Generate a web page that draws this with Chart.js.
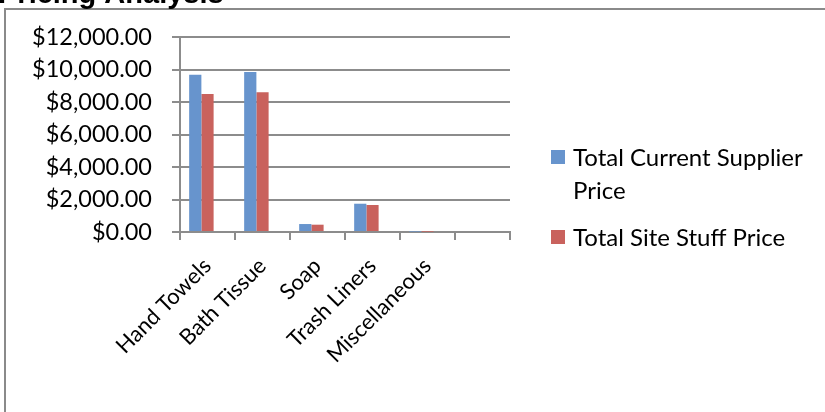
<!DOCTYPE html>
<html>
<head>
<meta charset="utf-8">
<script src="https://cdn.jsdelivr.net/npm/chart.js@4/dist/chart.umd.min.js"></script>
<style>
html,body{margin:0;padding:0;background:#fff;}
#wrap{width:825px;height:412px;position:relative;}
</style>
</head>
<body>
<div id="wrap"><canvas id="c" width="825" height="412"></canvas></div>
<script>
const chartTitle = "Pricing Analysis";
const categories = ["Hand Towels", "Bath Tissue", "Soap", "Trash Liners", "Miscellaneous", ""];
const currentSupplierPrice = [9680, 9840, 490, 1740, 25, null];
const siteStuffPrice = [8490, 8600, 450, 1660, 20, null];
const emptySeries = [null, null, null, null, null, null];
const seriesLabels = ["Total Current Supplier Price", "Total Site Stuff Price"];
const yTickLabels = ["$0.00", "$2,000.00", "$4,000.00", "$6,000.00", "$8,000.00", "$10,000.00", "$12,000.00"];

const AXIS_GRAY = "#8c8c8c";
const FONT = "Lato";

const framePlugin = {
  id: "frame",
  beforeDraw(chart) {
    const ctx = chart.ctx;
    ctx.save();
    ctx.fillStyle = "#fff";
    ctx.fillRect(0, 0, chart.width, chart.height);
    ctx.strokeStyle = "#8a8a8a";
    ctx.lineWidth = 2;
    ctx.strokeRect(5, 9, 900, 500);
    ctx.fillStyle = "#000";
    ctx.font = "bold 29px 'Liberation Sans'";
    ctx.textBaseline = "alphabetic";
    ctx.textAlign = "left";
    ctx.fillText(chartTitle, -2, 3);
    ctx.restore();
  },
  afterDraw(chart) {
    const ctx = chart.ctx;
    ctx.save();
    ctx.font = "24px " + FONT;
    ctx.textBaseline = "alphabetic";
    ctx.textAlign = "left";
    const maxW = 245;
    let y = 166;
    chart.data.datasets.forEach(ds => {
      if (!ds.label) return;
      const words = ds.label.split(" ");
      const lines = [];
      let cur = "";
      words.forEach(w => {
        const t = cur ? cur + " " + w : w;
        if (ctx.measureText(t).width > maxW && cur) { lines.push(cur); cur = w; }
        else cur = t;
      });
      if (cur) lines.push(cur);
      ctx.fillStyle = ds.backgroundColor;
      ctx.fillRect(551, y - 16, 14, 14);
      ctx.fillStyle = "#000";
      lines.forEach((ln, i) => ctx.fillText(ln, 573, y + i * 33));
      y += (lines.length - 1) * 33 + 47;
    });
    ctx.restore();
  }
};

new Chart(document.getElementById("c"), {
  type: "bar",
  data: {
    labels: categories,
    datasets: [
      { label: seriesLabels[0], data: currentSupplierPrice, backgroundColor: "#6794CD" },
      { label: seriesLabels[1], data: siteStuffPrice, backgroundColor: "#C9625D" },
      { label: "", data: emptySeries, backgroundColor: "#9BBB59" }
    ]
  },
  options: {
    responsive: false,
    animation: false,
    devicePixelRatio: 1,
    layout: { padding: { left: 0, right: 315, top: 37, bottom: 0 } },
    datasets: { bar: { categoryPercentage: 0.667, barPercentage: 1.0 } },
    plugins: { legend: { display: false }, tooltip: { enabled: false }, title: { display: false } },
    scales: {
      x: {
        afterFit(scale) { scale.height = 180; },
        grid: { display: true, drawOnChartArea: false, drawTicks: true, tickLength: 8, offset: true, color: AXIS_GRAY, lineWidth: 2 },
        border: { display: true, color: AXIS_GRAY, width: 2 },
        ticks: { color: "#000", font: { family: FONT, size: 22 }, minRotation: 45, maxRotation: 45, padding: 13, autoSkip: false }
      },
      y: {
        min: 0, max: 12000,
        afterFit(scale) { scale.width = 180; },
        grid: { color: AXIS_GRAY, lineWidth: 2, tickLength: 8, drawTicks: true },
        border: { display: true, color: AXIS_GRAY, width: 2 },
        ticks: {
          stepSize: 2000, color: "#000", padding: 20,
          font: { family: FONT, size: 23.5 },
          callback: (v, i) => yTickLabels[i]
        }
      }
    }
  },
  plugins: [framePlugin]
});
</script>
</body>
</html>
